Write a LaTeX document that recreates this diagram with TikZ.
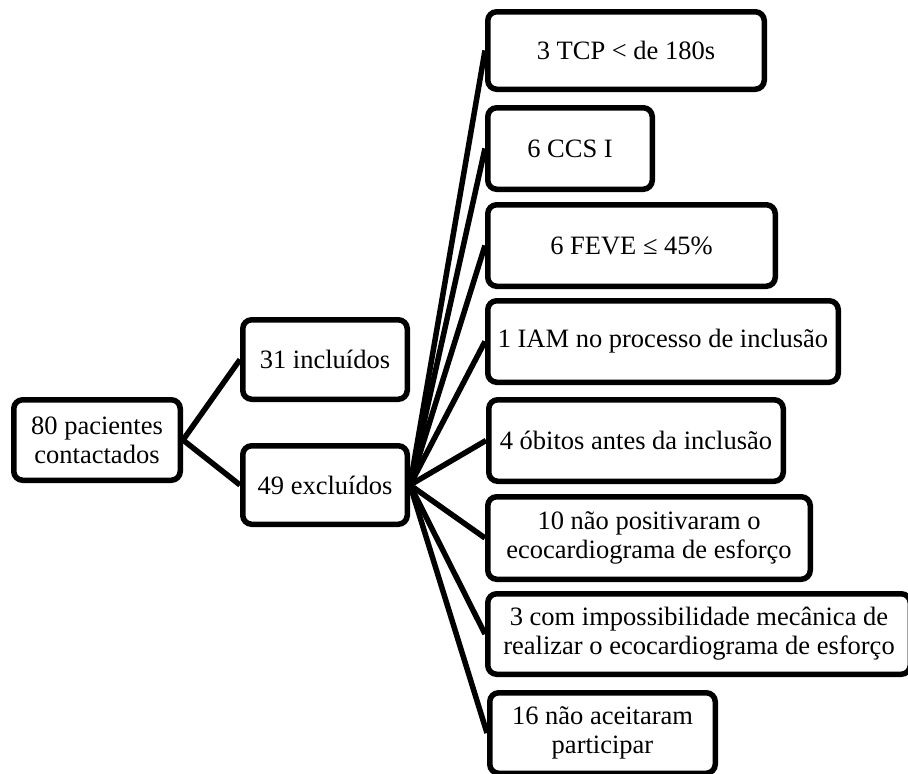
\documentclass[tikz,border=0pt]{standalone}
\usepackage{fontspec}
\setmainfont{Liberation Serif}
\begin{document}
\begin{tikzpicture}[x=1pt,y=-1pt,
  box/.style={draw, line width=5.5pt, rounded corners=9pt, align=center, inner sep=0pt,
    font=\fontsize{26.5}{29}\selectfont},
  conn/.style={line width=5.5pt}]
\clip (0,0) rectangle (908,774);
\fill[white] (0,0) rectangle (908,774);
\node[box, minimum width=166.5pt, minimum height=80.5pt] (root) at (97,440) {80 pacientes\\contactados};
\node[box, minimum width=164.5pt, minimum height=79.5pt] (inc) at (325,359.5) {31 incluídos};
\node[box, minimum width=164.5pt, minimum height=78.5pt] (exc) at (325,485) {49 excluídos};
\node[box, minimum width=276.5pt, minimum height=77.5pt] (r1) at (626,50.5) {3 TCP < de 180s};
\node[box, minimum width=164.5pt, minimum height=81.5pt] (r2) at (570,148.5) {6 CCS I};
\node[box, minimum width=287.5pt, minimum height=81.5pt] (r3) at (631.5,245.5) {6 FEVE ≤ 45\%};
\node[box, minimum width=350.5pt, minimum height=81.5pt] (r4) at (663,341.5) {1 IAM no processo de inclusão};
\node[box, minimum width=294.5pt, minimum height=81.5pt] (r5) at (636,440.5) {4 óbitos antes da inclusão};
\node[box, minimum width=322.5pt, minimum height=82.5pt] (r6) at (649,538) {10 não positivaram o\\ecocardiograma de esforço};
\node[box, minimum width=422.5pt, minimum height=80.5pt] (r7) at (699,634) {3 com impossibilidade mecânica de\\realizar o ecocardiograma de esforço};
\node[box, minimum width=225.5pt, minimum height=80.5pt] (r8) at (602.5,733) {16 não aceitaram\\participar};
\draw[conn] (root.east) -- (inc.west);
\draw[conn] (root.east) -- (exc.west);
\foreach \n in {r1,r2,r3,r4,r5,r6,r7,r8} {\draw[conn] (exc.east) -- (\n.west);}
\end{tikzpicture}
\end{document}
